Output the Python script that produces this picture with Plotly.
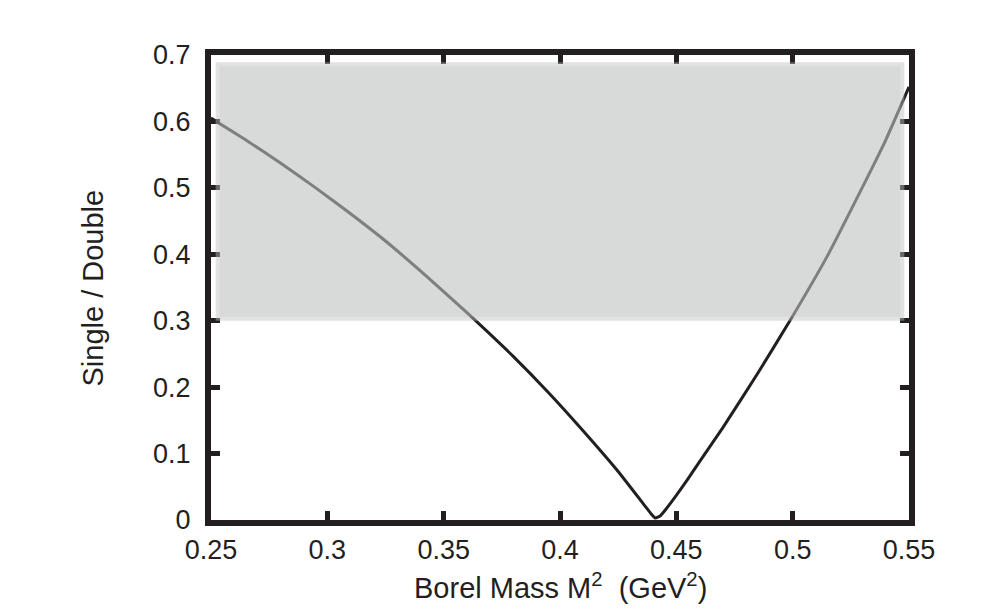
import plotly.graph_objects as go

# Curve (Borel mass M^2 in GeV^2, ratio Single/Double)
borel_m2 = [0.250, 0.265, 0.280, 0.295, 0.310, 0.325, 0.340, 0.355, 0.365,
            0.380, 0.395, 0.410, 0.425, 0.437, 0.439, 0.441, 0.443, 0.445,
            0.450, 0.455, 0.460, 0.470, 0.485, 0.499, 0.515, 0.530, 0.540,
            0.550]
ratio = [0.605, 0.572, 0.537, 0.500, 0.461, 0.420, 0.375, 0.328, 0.296,
         0.246, 0.192, 0.134, 0.073, 0.019, 0.010, 0.003, 0.006, 0.014,
         0.037, 0.062, 0.088, 0.139, 0.221, 0.301, 0.398, 0.501, 0.572,
         0.652]

# Shaded band limits
band_x = [0.252, 0.548]
band_y = [0.300, 0.689]

x_tickvals = [0.25, 0.30, 0.35, 0.40, 0.45, 0.50, 0.55]
x_ticktext = ["0.25", "0.3", "0.35", "0.4", "0.45", "0.5", "0.55"]
y_tickvals = [0.0, 0.1, 0.2, 0.3, 0.4, 0.5, 0.6, 0.7]
y_ticktext = ["0", "0.1", "0.2", "0.3", "0.4", "0.5", "0.6", "0.7"]

INK = "#231f20"
FONT = "Liberation Sans, Arial, Helvetica, sans-serif"

# the page body has an 8px margin: shrink the figure to compensate
OFF = 8
W, H = 991 - OFF, 613 - OFF
L, T = 211 - OFF, 54.5 - OFF
R = 991 - 909
B = 613 - 520.5
PW = W - L - R
PH = H - T - B

fig = go.Figure()
fig.add_trace(go.Scatter(x=borel_m2, y=ratio, mode="lines",
                         line=dict(color=INK, width=3, shape="spline", smoothing=0.4),
                         showlegend=False, hoverinfo="skip"))

# semi-transparent band drawn over the curve and ticks
fig.add_shape(type="rect", xref="x", yref="y", layer="above",
              x0=band_x[0], x1=band_x[1], y0=band_y[0], y1=band_y[1],
              fillcolor="rgba(190,191,194,0.45)", line=dict(width=0))
dx = 0.0017
dy = 0.006
fig.add_shape(type="rect", xref="x", yref="y", layer="above",
              x0=band_x[0] + dx, x1=band_x[1] - dx, y0=band_y[0] + dy, y1=band_y[1] - dy,
              fillcolor="rgba(190,191,194,0.27)", line=dict(width=0))

axis_common = dict(showline=True, linewidth=6, linecolor=INK, mirror="ticks",
                   ticks="inside", ticklen=9, tickwidth=5, tickcolor=INK,
                   showgrid=False, zeroline=False,
                   tickfont=dict(family=FONT, size=27, color=INK))

fig.update_xaxes(range=[0.25, 0.55], tickmode="array", tickvals=x_tickvals,
                 ticktext=x_ticktext, ticklabelstandoff=1, **axis_common)
fig.update_yaxes(range=[0.0, 0.7], tickmode="array", tickvals=y_tickvals,
                 ticktext=y_ticktext, ticklabelstandoff=9, **axis_common)

fig.add_annotation(text="Borel Mass M<sup>2</sup>\u00a0\u00a0(GeV<sup>2</sup>)",
                   xref="paper", yref="paper", x=(560 - 211) / 698, y=-(587 - 520.5) / PH,
                   xanchor="center", yanchor="middle", showarrow=False,
                   font=dict(family=FONT, size=29, color=INK))
fig.add_annotation(text="Single / Double", textangle=-90,
                   xref="paper", yref="paper", x=-(211 - 92.5) / PW, y=(520.5 - 288) / PH,
                   xanchor="center", yanchor="middle", showarrow=False,
                   font=dict(family=FONT, size=29, color=INK))

fig.update_layout(width=W, height=H,
                  margin=dict(l=L, r=R, t=T, b=B, pad=0, autoexpand=False),
                  paper_bgcolor="white", plot_bgcolor="white")

fig.write_html("out.html")
